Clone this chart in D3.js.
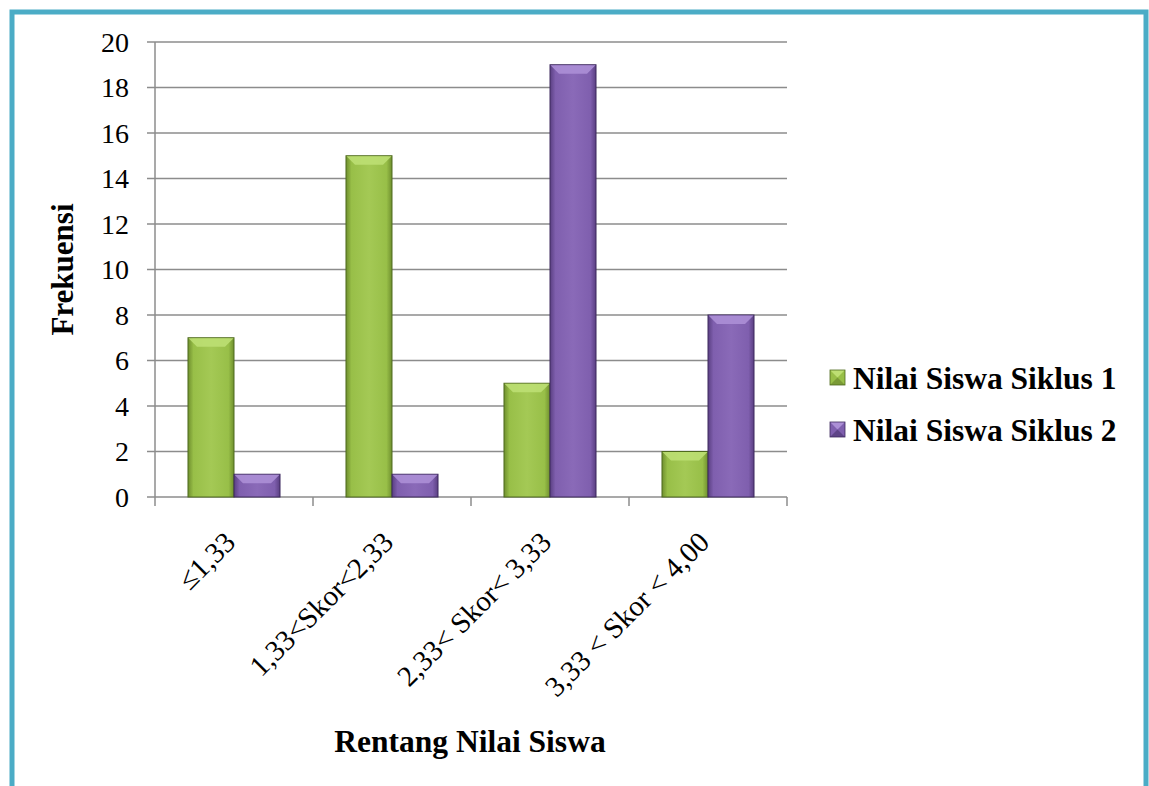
<!DOCTYPE html>
<html lang="id">
<head>
<meta charset="UTF-8">
<title>Rentang Nilai Siswa</title>
<script src="https://d3js.org/d3.v7.min.js"></script>
<style>
  body { margin: 0; background: #fff; }
</style>
</head>
<body>
<svg id="chart" width="1149" height="786"></svg>
<script>
// data
const categories = ["\u22641,33", "1,33<Skor<2,33", "2,33< Skor< 3,33", "3,33 < Skor < 4,00"];
const seriesNames = ["Nilai Siswa Siklus 1", "Nilai Siswa Siklus 2"];
const siklus1 = [7, 15, 5, 2];
const siklus2 = [1, 1, 19, 8];
const yTicks = [0, 2, 4, 6, 8, 10, 12, 14, 16, 18, 20];

const serif = "'Liberation Serif', 'Times New Roman', Times, serif";

const svg = d3.select("#chart")
  .style("font-family", serif);

// frame
svg.append("path")
  .attr("d", "M12,790 L12,12 L1146,12 L1146,790")
  .attr("fill", "none")
  .attr("stroke", "#4bacc6")
  .attr("stroke-width", 5);

const plotL = 155, plotR = 787, plotT = 42, plotB = 497;

const x = d3.scaleBand().domain(categories).range([plotL, plotR]).paddingInner(0).paddingOuter(0);
const xs = d3.scaleBand().domain(seriesNames).range([0, x.bandwidth()]).paddingInner(0).paddingOuter(0.717);
const y = d3.scaleLinear().domain([0, 20]).range([plotB, plotT]);

// gradients
const defs = svg.append("defs");
const palettes = [
  { id: "g1", dark: "#6f8f2e", mid: "#98bf48", light: "#a4c955", top: "#bddf73", bot: "#7a9a36", border: "#4f6a1e" },
  { id: "g2", dark: "#5a3f82", mid: "#7f5fae", light: "#8a6ab8", top: "#ac8fd6", bot: "#5e4487", border: "#3e2a5e" }
];
palettes.forEach(p => {
  const g = defs.append("linearGradient").attr("id", p.id).attr("x1", 0).attr("x2", 1).attr("y1", 0).attr("y2", 0);
  g.append("stop").attr("offset", "0%").attr("stop-color", p.dark);
  g.append("stop").attr("offset", "12%").attr("stop-color", p.mid);
  g.append("stop").attr("offset", "50%").attr("stop-color", p.light);
  g.append("stop").attr("offset", "88%").attr("stop-color", p.mid);
  g.append("stop").attr("offset", "100%").attr("stop-color", p.dark);
});

// gridlines
svg.append("g")
  .selectAll("line")
  .data(yTicks)
  .join("line")
  .attr("x1", plotL - 8)
  .attr("x2", plotR)
  .attr("y1", d => y(d))
  .attr("y2", d => y(d))
  .attr("stroke", "#8c8c8c")
  .attr("stroke-width", 1.5);

// y axis line
svg.append("line")
  .attr("x1", plotL).attr("x2", plotL)
  .attr("y1", plotT).attr("y2", plotB)
  .attr("stroke", "#8c8c8c").attr("stroke-width", 1.5);

// x axis ticks
svg.append("g")
  .selectAll("line")
  .data(d3.range(categories.length + 1))
  .join("line")
  .attr("x1", i => plotL + i * x.bandwidth())
  .attr("x2", i => plotL + i * x.bandwidth())
  .attr("y1", plotB)
  .attr("y2", plotB + 9)
  .attr("stroke", "#8c8c8c").attr("stroke-width", 1.5);

// y tick labels
svg.append("g")
  .selectAll("text")
  .data(yTicks)
  .join("text")
  .attr("x", 129)
  .attr("y", d => y(d))
  .attr("dy", "0.35em")
  .attr("text-anchor", "end")
  .attr("font-family", serif)
  .attr("font-size", 28)
  .text(d => d);

// bars
const series = [siklus1, siklus2];
series.forEach((vals, si) => {
  const p = palettes[si];
  const g = svg.append("g");
  const bw = xs.bandwidth();
  const bars = g.selectAll("g").data(vals).join("g")
    .attr("transform", (d, i) => `translate(${x(categories[i]) + xs(seriesNames[si])},0)`);
  bars.append("rect")
    .attr("x", 0)
    .attr("y", d => y(d))
    .attr("width", bw)
    .attr("height", d => plotB - y(d))
    .attr("fill", `url(#${p.id})`)
    .attr("stroke", p.border)
    .attr("stroke-width", 1);
  bars.append("path")
    .attr("d", d => {
      const t = y(d), b = Math.min(9, (plotB - y(d)) / 2);
      return `M0.5,${t + 0.5} L${bw - 0.5},${t + 0.5} L${bw - 9},${t + b} L9,${t + b} Z`;
    })
    .attr("fill", p.top)
    .attr("opacity", 0.9);
});

// x category labels
svg.append("g")
  .selectAll("text")
  .data(categories)
  .join("text")
  .attr("transform", d => `translate(${x(d) + x.bandwidth() / 2 + 3},${plotB + 47}) rotate(-45)`)
  .attr("text-anchor", "end")
  .attr("font-family", serif)
  .attr("font-size", 29)
  .text(d => d);

// axis titles
svg.append("text")
  .attr("transform", `translate(73,${(plotT + plotB) / 2}) rotate(-90)`)
  .attr("text-anchor", "middle")
  .attr("font-family", serif)
  .attr("font-size", 31)
  .attr("font-weight", "bold")
  .text("Frekuensi");

svg.append("text")
  .attr("x", 470)
  .attr("y", 752)
  .attr("text-anchor", "middle")
  .attr("font-family", serif)
  .attr("font-size", 31.5)
  .attr("font-weight", "bold")
  .text("Rentang Nilai Siswa");

// legend
const legend = svg.append("g").attr("transform", "translate(830,370)");
seriesNames.forEach((name, i) => {
  const p = palettes[i];
  const row = legend.append("g").attr("transform", `translate(0,${i * 52})`);
  row.append("rect")
    .attr("x", 0).attr("y", 0)
    .attr("width", 15).attr("height", 15)
    .attr("fill", p.mid);
  row.append("path")
    .attr("d", "M0,0 L15,0 L7.5,7.5 Z")
    .attr("fill", p.top);
  row.append("path")
    .attr("d", "M0,15 L15,15 L7.5,7.5 Z")
    .attr("fill", p.bot);
  row.append("rect")
    .attr("x", 0).attr("y", 0)
    .attr("width", 15).attr("height", 15)
    .attr("fill", "none")
    .attr("stroke", p.border).attr("stroke-width", 0.8);
  row.append("text")
    .attr("x", 23)
    .attr("y", 7.5)
    .attr("dy", "0.35em")
    .attr("font-family", serif)
    .attr("font-size", 31.5)
    .attr("font-weight", "bold")
    .text(name);
});
</script>
</body>
</html>
